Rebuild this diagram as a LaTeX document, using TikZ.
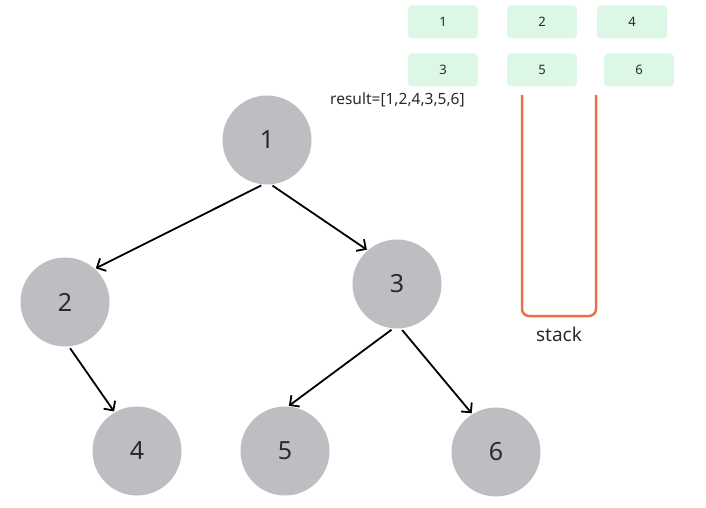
\documentclass[tikz,border=0pt]{standalone}
\usepackage{fontspec}
\setmainfont{Noto Sans}
\usepackage{color}
\definecolor{mygray}{RGB}{188,190,194}
\definecolor{mymint}{RGB}{220,247,230}
\definecolor{myorange}{RGB}{236,110,76}
\definecolor{mytext}{RGB}{40,42,48}
\usetikzlibrary{arrows.meta,positioning}
\tikzstyle{vertex}=[fill=mygray,circle,minimum size=89pt,inner sep=0pt,text=mytext,font=\fontsize{25}{25}\selectfont]
\tikzstyle{cell}=[fill=mymint,rounded corners=4pt,minimum width=70pt,minimum height=33pt,inner sep=0pt,text=mytext,font=\fontsize{13}{13}\selectfont]
\tikzstyle{edge}=[line width=1.8pt,-{Straight Barb[length=7pt,width=14pt]},shorten <=2pt,shorten >=1pt]

\begin{document}
\begin{tikzpicture}[x=1pt,y=-1pt]
\useasboundingbox (0,0) rectangle (706,508);
% tree
\node [vertex] (n1) at (267,140) {1};
\node [vertex] (n2) at (65,302) {2};
\node [vertex] (n3) at (397,284) {3};
\node [vertex] (n4) at (137,451) {4};
\node [vertex] (n5) at (285,451) {5};
\node [vertex] (n6) at (496,452) {6};
\draw [edge] (n1.265) -- (n2.48);
\draw [edge] (n1.275) -- (n3.131);
\draw [edge] (n2.275) -- (n4.120);
\draw [edge] (n3.265) -- (n5.86);
\draw [edge] (n3.275) -- (n6.122);
% visited order
\node [cell] (c1) at (443,22) {1};
\node [cell] (c2) at (542,22) {2};
\node [cell] (c4) at (632,22) {4};
\node [cell] (c3) at (443,70) {3};
\node [cell] (c5) at (542,70) {5};
\node [cell] (c6) at (639,70) {6};
\node [anchor=west,text=mytext,font=\fontsize{15.5}{15.5}\selectfont,inner sep=0pt] (res) at (330,100) {result=[1,2,4,3,5,6]};
% stack
\coordinate (sl) at (522,95);
\coordinate (sr) at (596,95);
\draw [myorange,line width=2.5pt,rounded corners=7pt] (sl) -- (sl |- 0,316) -- (sr |- 0,316) -- (sr);
\node [text=mytext,font=\fontsize{19}{19}\selectfont,inner sep=0pt] (lbl) at (559,334) {stack};
\end{tikzpicture}
\end{document}
